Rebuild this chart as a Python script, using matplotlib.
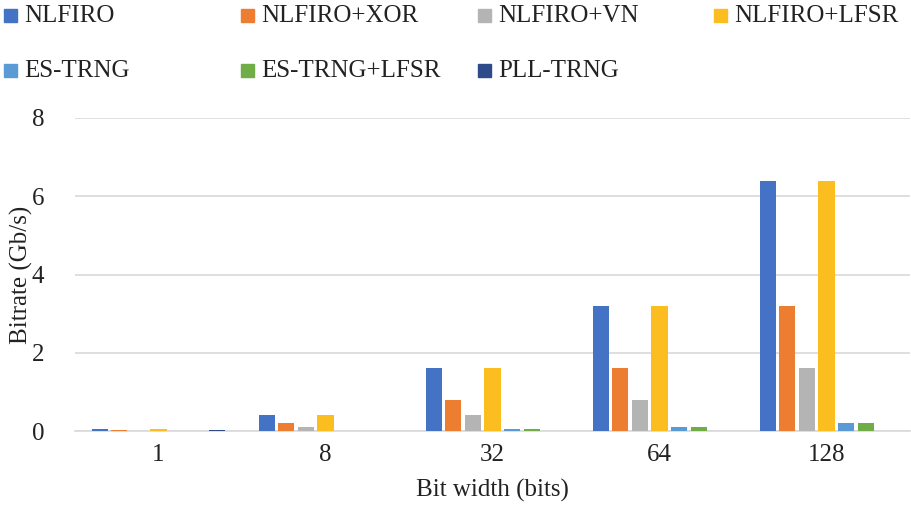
import numpy as np
import matplotlib
matplotlib.use("Agg")
import matplotlib.pyplot as plt
from matplotlib.patches import Rectangle

plt.rcParams['font.family'] = ['Liberation Serif', 'DejaVu Serif']

# data
categories = ['1', '8', '32', '64', '128']
series_names = ['NLFIRO', 'NLFIRO+XOR', 'NLFIRO+VN', 'NLFIRO+LFSR',
                'ES-TRNG', 'ES-TRNG+LFSR', 'PLL-TRNG']
nlfiro = [0.05, 0.4, 1.6, 3.2, 6.4]
nlfiro_xor = [0.025, 0.2, 0.8, 1.6, 3.2]
nlfiro_vn = [0.0125, 0.1, 0.4, 0.8, 1.6]
nlfiro_lfsr = [0.05, 0.4, 1.6, 3.2, 6.4]
es_trng = [0.004, 0.0125, 0.05, 0.1, 0.2]
es_trng_lfsr = [0.004, 0.0125, 0.05, 0.1, 0.2]
pll_trng = [0.025, 0, 0, 0, 0]
colors = ['#4472C4', '#ED7D31', '#B4B4B4', '#FBBD1F',
          '#5B9BD5', '#70AD47', '#2E4A8A']

all_series = [nlfiro, nlfiro_xor, nlfiro_vn, nlfiro_lfsr,
              es_trng, es_trng_lfsr, pll_trng]

fig = plt.figure(figsize=(9.11, 5.11), dpi=100)
W, H = 911.0, 511.0
ax = fig.add_axes([75 / W, (H - 431) / H, 835 / W, 313 / H])

x = np.arange(len(categories))
slot = 0.1174
bw = 0.096
for i, (vals, c) in enumerate(zip(all_series, colors)):
    ax.bar(x + (i - 3) * slot, vals, width=bw, color=c, zorder=3)

ax.set_xlim(-0.5, len(categories) - 0.5)
ax.set_ylim(0, 8)
ax.set_yticks([0, 2, 4, 6, 8])
ax.set_xticks(x)
ax.set_xticklabels(categories)
ax.yaxis.grid(True, color='#D9D9D9', linewidth=1.2, zorder=0)
ax.tick_params(axis='both', length=0, labelsize=18, colors='#222222')
ax.tick_params(axis='y', pad=22)
ax.tick_params(axis='x', pad=9)
for s in ['top', 'right', 'left']:
    ax.spines[s].set_visible(False)
ax.spines['bottom'].set_color('#D9D9D9')
ax.spines['bottom'].set_linewidth(1.2)

ax.set_ylabel('Bitrate (Gb/s)', fontsize=18, color='#222222')
ax.yaxis.set_label_coords(-42 / 835, 0.5)
ax.set_xlabel('Bit width (bits)', fontsize=18, color='#222222')
ax.xaxis.set_label_coords(0.5, -48 / 313)

# legend laid out like the Excel one: 4 columns, 2 rows
col_x = [4, 241, 478, 714]
row_y = [16, 71]
for i, (name, c) in enumerate(zip(series_names, colors)):
    px = col_x[i % 4]
    py = row_y[i // 4]
    fig.patches.append(Rectangle((px / W, (H - py - 6.5) / H), 13 / W, 13 / H,
                                 color=c, transform=fig.transFigure))
    fig.text((px + 20) / W, (H - py) / H, name, fontsize=18,
             va='center', ha='left', color='#222222')

fig.savefig('out.png', dpi=100)
